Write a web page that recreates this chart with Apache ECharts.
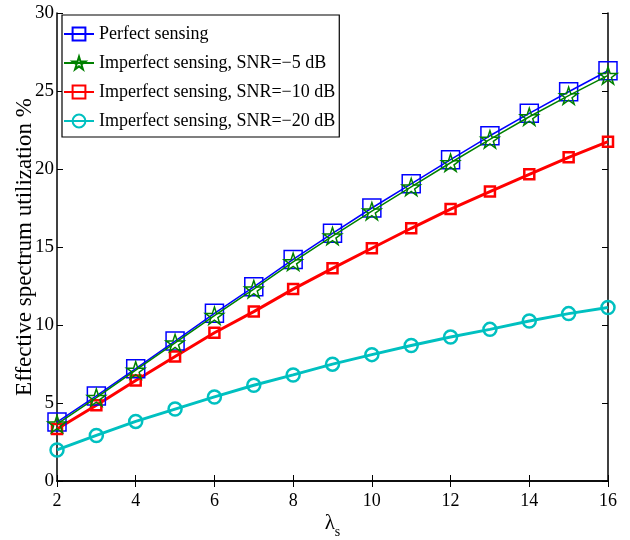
<!DOCTYPE html>
<html><head><meta charset="utf-8">
<script src="https://cdn.jsdelivr.net/npm/echarts@6/dist/echarts.min.js"></script>
<style>html,body{margin:0;padding:0;background:#fff}#c{width:630px;height:540px}</style>
</head><body><div id="c"></div>
<script>
const lambdaS = [2,3,4,5,6,7,8,9,10,11,12,13,14,15,16];
const perfect = [3.78,5.45,7.2,8.97,10.75,12.45,14.2,15.88,17.5,19.05,20.6,22.13,23.57,24.95,26.3];
const snr5 = [3.65,5.35,7.1,8.85,10.6,12.3,14.05,15.7,17.3,18.85,20.4,21.9,23.35,24.7,26.0];
const snr10 = [3.33,4.85,6.44,7.98,9.5,10.86,12.3,13.63,14.92,16.2,17.43,18.55,19.66,20.75,21.75];
const snr20 = [1.99,2.92,3.82,4.61,5.39,6.14,6.8,7.49,8.1,8.69,9.23,9.72,10.26,10.73,11.12];
const seriesNames = ['Perfect sensing','Imperfect sensing, SNR=\u22125 dB','Imperfect sensing, SNR=\u221210 dB','Imperfect sensing, SNR=\u221220 dB'];
const xTicks = [2,4,6,8,10,12,14,16];
const yTicks = [0,5,10,15,20,25,30];

const font = 'Liberation Serif';
const star = 'path://M50 0 L61.23 34.55 L97.55 34.55 L68.17 55.9 L79.39 90.45 L50 69.1 L20.61 90.45 L31.83 55.9 L2.45 34.55 L38.77 34.55 Z';
const pairs = a => lambdaS.map((x,i)=>[x,a[i]]);
const chart = echarts.init(document.getElementById('c'), null, {renderer:'canvas'});
const axisCommon = {
  axisLine:{show:true,lineStyle:{color:'#000',width:1.5}},
  axisTick:{show:true,inside:true,length:6,lineStyle:{color:'#000'}},
  splitLine:{show:false}
};
chart.setOption({
  animation:false,
  backgroundColor:'#fff',
  grid:{left:57,right:22,top:13,bottom:59,outerBoundsMode:'none',containLabel:false},
  legend:{
    left:62,top:15,orient:'vertical',itemGap:11,itemWidth:30,itemHeight:16,
    backgroundColor:'#fff',borderColor:'#000',borderWidth:1.2,padding:[10,4,7,1],borderRadius:0,
    textStyle:{fontFamily:font,fontSize:18,color:'#000'},
    data:seriesNames
  },
  xAxis:[
    Object.assign({type:'value',min:2,max:16,interval:2,position:'bottom',
      axisLabel:{fontFamily:font,fontSize:18,color:'#000',margin:11},
      name:'{a|λ}{b|s}',nameLocation:'middle',nameGap:26,nameMoveOverlap:false,
      nameTextStyle:{rich:{a:{fontFamily:font,fontSize:21,color:'#000'},b:{fontFamily:font,fontSize:14,color:'#000',padding:[18,0,0,0]}}}
    },axisCommon),
    Object.assign({type:'value',min:2,max:16,interval:2,position:'top',axisLabel:{show:false}},axisCommon)
  ],
  yAxis:[
    Object.assign({type:'value',min:0,max:30,interval:5,position:'left',
      axisLabel:{fontFamily:font,fontSize:19,color:'#000',margin:3},
      name:'Effective spectrum utilization %',nameLocation:'middle',nameGap:21,nameMoveOverlap:false,
      nameTextStyle:{fontFamily:font,fontSize:23,color:'#000'}
    },axisCommon),
    Object.assign({type:'value',min:0,max:30,interval:5,position:'right',axisLabel:{show:false}},axisCommon)
  ],
  series:[
    {name:seriesNames[0],type:'line',data:pairs(perfect),symbol:'rect',symbolSize:18,
      lineStyle:{color:'#0000ff',width:1.5},itemStyle:{color:'rgba(255,255,255,0)',borderColor:'#0000ff',borderWidth:1.5},z:2},
    {name:seriesNames[1],type:'line',data:pairs(snr5),symbol:star,symbolKeepAspect:true,symbolSize:18,
      lineStyle:{color:'#008000',width:1.5},itemStyle:{color:'rgba(255,255,255,0)',borderColor:'#008000',borderWidth:1.5},z:3},
    {name:seriesNames[2],type:'line',data:pairs(snr10),symbol:'rect',symbolSize:10,
      lineStyle:{color:'#ff0000',width:3},itemStyle:{color:'rgba(255,255,255,0)',borderColor:'#ff0000',borderWidth:2.5},z:2},
    {name:seriesNames[3],type:'line',data:pairs(snr20),symbol:'circle',symbolSize:13,
      lineStyle:{color:'#00c0c0',width:3},itemStyle:{color:'rgba(255,255,255,0)',borderColor:'#00c0c0',borderWidth:2.5},z:2}
  ]
});
</script></body></html>
